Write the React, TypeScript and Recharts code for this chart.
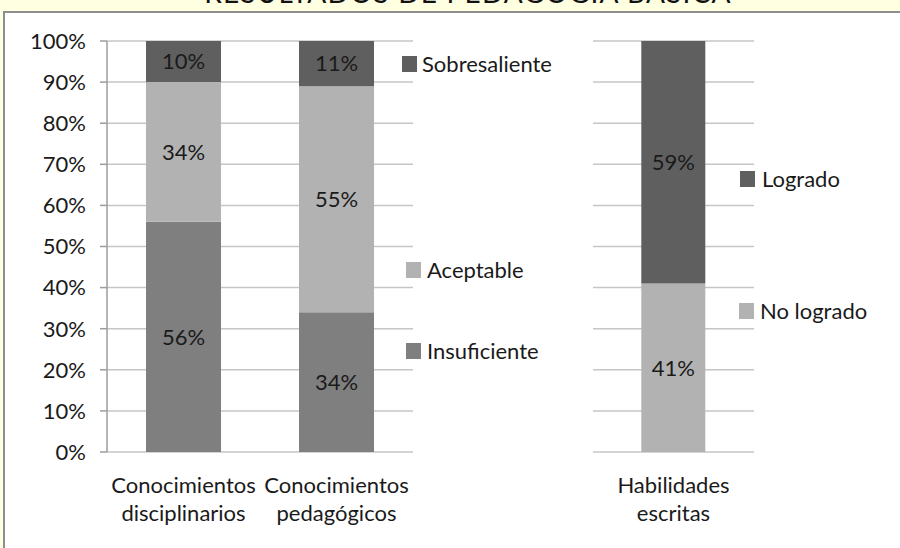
import { Bar, BarChart, CartesianGrid, LabelList, XAxis, YAxis } from "recharts";

const categoriesLeft = ["Conocimientos disciplinarios", "Conocimientos pedagógicos"];
const insuficiente = [56, 34];
const aceptable = [34, 55];
const sobresaliente = [10, 11];

const categoriesRight = ["Habilidades escritas"];
const noLogrado = [41];
const logrado = [59];

const yTicks = [0, 10, 20, 30, 40, 50, 60, 70, 80, 90, 100];

const leftData = categoriesLeft.map((name, i) => ({
  name,
  insuficiente: insuficiente[i],
  aceptable: aceptable[i],
  sobresaliente: sobresaliente[i],
}));

const rightData = categoriesRight.map((name, i) => ({
  name,
  noLogrado: noLogrado[i],
  logrado: logrado[i],
}));

const FONT = "Lato, 'Noto Sans', sans-serif";
const FS = 22;
const TEXT = "#1a1a1a";
const GRID = "#c6c6c6";
const AXIS = "#9c9c9c";
const DARK = "#5f5f5f";
const MID = "#7f7f7f";
const LIGHT = "#b2b2b2";

const CategoryTick = (props: any) => {
  const { x, y, payload } = props;
  const words = String(payload.value).split(" ");
  return (
    <text x={x} y={y} textAnchor="middle" fill={TEXT} fontSize={FS} fontFamily={FONT}>
      {words.map((w, i) => (
        <tspan key={i} x={x} dy={i === 0 ? 41 : 28}>
          {w}
        </tspan>
      ))}
    </text>
  );
};

const pct = (v: any) => `${v}%`;

const LegendItem = ({ x, y, color, label, gap = 6 }: any) => (
  <div style={{ position: "absolute", left: x, top: y, display: "flex", alignItems: "center" }}>
    <div style={{ width: 15, height: 16, background: color }} />
    <span style={{ marginLeft: gap, fontFamily: FONT, fontSize: FS, color: TEXT, lineHeight: "16px" }}>{label}</span>
  </div>
);

const App = () => {
  return (
    <div
      style={{
        position: "absolute",
        left: 0,
        top: 0,
        width: 900,
        height: 548,
        background: "#FFFFE1",
        overflow: "hidden",
      }}
    >
      {/* title sits above the frame, mostly out of view as in the source */}
      <div
        style={{
          position: "absolute",
          left: 0,
          top: -22,
          width: 936,
          textAlign: "center",
          fontFamily: FONT,
          fontSize: 28,
          lineHeight: "28px",
          letterSpacing: 1.2,
          color: "#111",
        }}
      >
        RESULTADOS DE PEDAGOGÍA BÁSICA
      </div>
      <div
        style={{
          position: "absolute",
          left: 3,
          top: 11,
          width: 940,
          height: 580,
          background: "#fff",
          border: "2px solid #8e8e8e",
        }}
      />

      <div style={{ position: "absolute", left: 0, top: 0 }}>
        <BarChart
          width={413}
          height={548}
          data={leftData}
          margin={{ top: 41, right: 0, left: 0, bottom: 16 }}
          barCategoryGap="25.5%"
        >
          <CartesianGrid vertical={false} stroke={GRID} strokeWidth={1.5} />
          <XAxis
            xAxisId="edge"
            type="number"
            domain={[0, categoriesLeft.length]}
            ticks={categoriesLeft.map((_, i) => i).concat(categoriesLeft.length)}
            allowDataOverflow
            height={0}
            tick={false}
            tickSize={8}
            stroke={AXIS}
            strokeWidth={1.5}
          />
          <XAxis
            dataKey="name"
            height={80}
            axisLine={false}
            tickLine={false}
            tickSize={0}
            tickMargin={0}
            tick={<CategoryTick />}
            interval={0}
          />
          <YAxis
            width={107}
            domain={[0, 100]}
            ticks={yTicks}
            tickFormatter={pct}
            tickSize={7}
            tickMargin={14}
            stroke={AXIS}
            strokeWidth={1.5}
            tick={{ fill: TEXT, fontSize: FS, fontFamily: FONT }}
            interval={0}
          />
          <Bar dataKey="insuficiente" stackId="a" fill={MID} isAnimationActive={false}>
            <LabelList dataKey="insuficiente" position="center" formatter={pct} fill={TEXT} fontSize={FS} fontFamily={FONT} />
          </Bar>
          <Bar dataKey="aceptable" stackId="a" fill={LIGHT} isAnimationActive={false}>
            <LabelList dataKey="aceptable" position="center" formatter={pct} fill={TEXT} fontSize={FS} fontFamily={FONT} />
          </Bar>
          <Bar dataKey="sobresaliente" stackId="a" fill={DARK} isAnimationActive={false}>
            <LabelList dataKey="sobresaliente" position="center" formatter={pct} fill={TEXT} fontSize={FS} fontFamily={FONT} />
          </Bar>
        </BarChart>
      </div>

      <div style={{ position: "absolute", left: 593, top: 0 }}>
        <BarChart
          width={161}
          height={548}
          data={rightData}
          margin={{ top: 41, right: 0, left: 0, bottom: 16 }}
          barCategoryGap="30%"
        >
          <CartesianGrid vertical={false} stroke={GRID} strokeWidth={1.5} />
          <XAxis
            xAxisId="edge"
            type="number"
            domain={[0, categoriesRight.length]}
            ticks={categoriesRight.map((_, i) => i).concat(categoriesRight.length)}
            allowDataOverflow
            height={0}
            tick={false}
            tickSize={8}
            stroke={AXIS}
            strokeWidth={1.5}
          />
          <XAxis
            dataKey="name"
            height={80}
            axisLine={false}
            tickLine={false}
            tickSize={0}
            tickMargin={0}
            tick={<CategoryTick />}
            interval={0}
          />
          <YAxis hide width={0} domain={[0, 100]} ticks={yTicks} />
          <Bar dataKey="noLogrado" stackId="a" fill={LIGHT} isAnimationActive={false}>
            <LabelList dataKey="noLogrado" position="center" formatter={pct} fill={TEXT} fontSize={FS} fontFamily={FONT} />
          </Bar>
          <Bar dataKey="logrado" stackId="a" fill={DARK} isAnimationActive={false}>
            <LabelList dataKey="logrado" position="center" formatter={pct} fill={TEXT} fontSize={FS} fontFamily={FONT} />
          </Bar>
        </BarChart>
      </div>

      <LegendItem x={402} y={56} color={DARK} label="Sobresaliente" gap={5} />
      <LegendItem x={406} y={262} color={LIGHT} label="Aceptable" />
      <LegendItem x={406} y={343} color={MID} label="Insuficiente" />
      <LegendItem x={740} y={171} color={DARK} label="Logrado" gap={7} />
      <LegendItem x={739} y={303} color={LIGHT} label="No logrado" />
    </div>
  );
};

export default App;
